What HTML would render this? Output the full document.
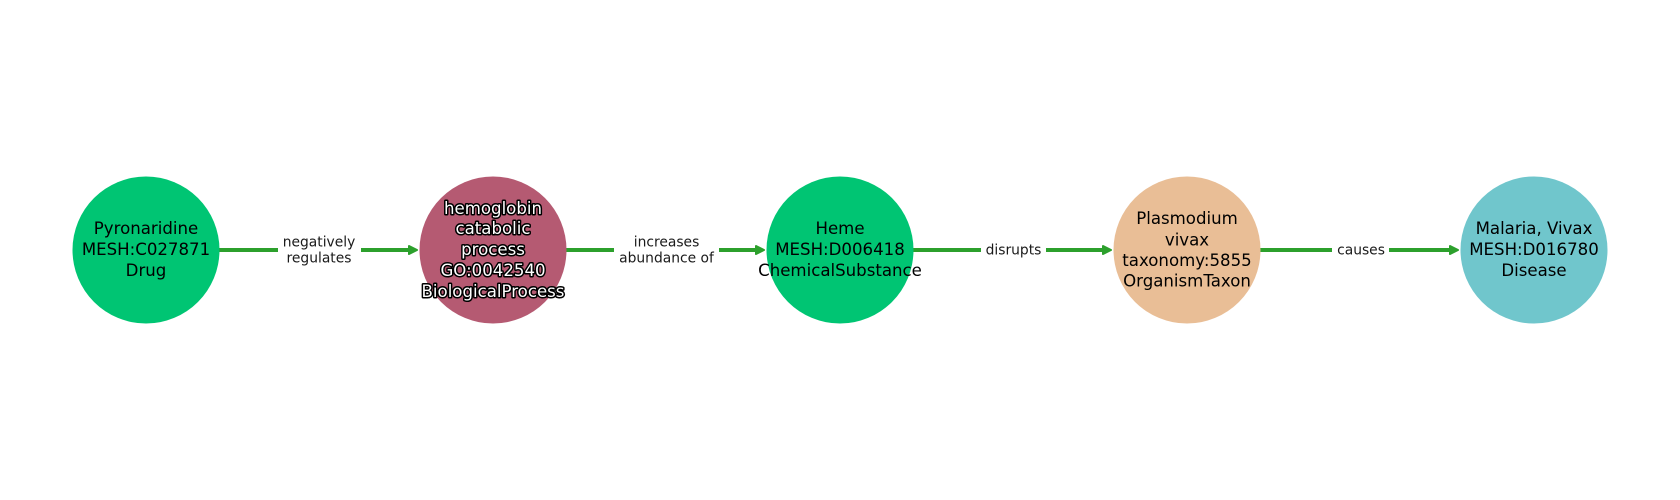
<!DOCTYPE html>
<html><head><meta charset="utf-8"><style>
html,body{margin:0;padding:0;background:#fff;width:1680px;height:500px;overflow:hidden}
svg{display:block}
text{font-family:"DejaVu Sans",sans-serif;text-anchor:middle}
.n{font-size:16.6px;fill:#000}
.e{font-size:13.85px;fill:#1a1a1a}
.h{font-size:16.6px;fill:#fff;stroke:#000;stroke-width:3px;paint-order:stroke;stroke-linejoin:round}
.l{stroke:#2ca02c;stroke-width:4;fill:none}
.a{fill:#2ca02c;stroke:#2ca02c;stroke-width:2;stroke-linejoin:round}
</style></head><body>
<svg width="1680" height="500" viewBox="0 0 1680 500" xmlns="http://www.w3.org/2000/svg">
<path class="l" d="M219 250H278M361 250H410"/><path class="a" d="M409 246L417 250L409 254Z"/>
<path class="l" d="M566 250H614M719 250H757"/><path class="a" d="M756 246L764 250L756 254Z"/>
<path class="l" d="M913 250H981M1046 250H1104"/><path class="a" d="M1103 246L1111 250L1103 254Z"/>
<path class="l" d="M1260 250H1332M1389 250H1451"/><path class="a" d="M1450 246L1458 250L1450 254Z"/>
<circle cx="146" cy="250" r="73.500" fill="#00c573"/>
<circle cx="493" cy="250" r="73.500" fill="#b55a72"/>
<circle cx="840" cy="250" r="73.500" fill="#00c573"/>
<circle cx="1187" cy="250" r="73.500" fill="#e9be96"/>
<circle cx="1534" cy="250" r="73.500" fill="#70c6cc"/>
<text class="n" x="146" y="234">Pyronaridine</text>
<text class="n" x="146" y="255">MESH:C027871</text>
<text class="n" x="146" y="276">Drug</text>
<text class="h" x="493" y="214">hemoglobin</text>
<text class="h" x="493" y="234">catabolic</text>
<text class="h" x="493" y="255">process</text>
<text class="h" x="493" y="276">GO:0042540</text>
<text class="h" x="493" y="297">BiologicalProcess</text>
<text class="n" x="840" y="234">Heme</text>
<text class="n" x="840" y="255">MESH:D006418</text>
<text class="n" x="840" y="276">ChemicalSubstance</text>
<text class="n" x="1187" y="224">Plasmodium</text>
<text class="n" x="1187" y="245.500">vivax</text>
<text class="n" x="1187" y="266">taxonomy:5855</text>
<text class="n" x="1187" y="286.500">OrganismTaxon</text>
<text class="n" x="1534" y="234">Malaria, Vivax</text>
<text class="n" x="1534" y="255">MESH:D016780</text>
<text class="n" x="1534" y="276">Disease</text>
<text class="e" x="319" y="246.500">negatively</text>
<text class="e" x="319" y="262.500">regulates</text>
<text class="e" x="666.500" y="246.500">increases</text>
<text class="e" x="666.500" y="262.500">abundance of</text>
<text class="e" x="1013.500" y="254.500">disrupts</text>
<text class="e" x="1361" y="254.500">causes</text>
</svg>
</body></html>
